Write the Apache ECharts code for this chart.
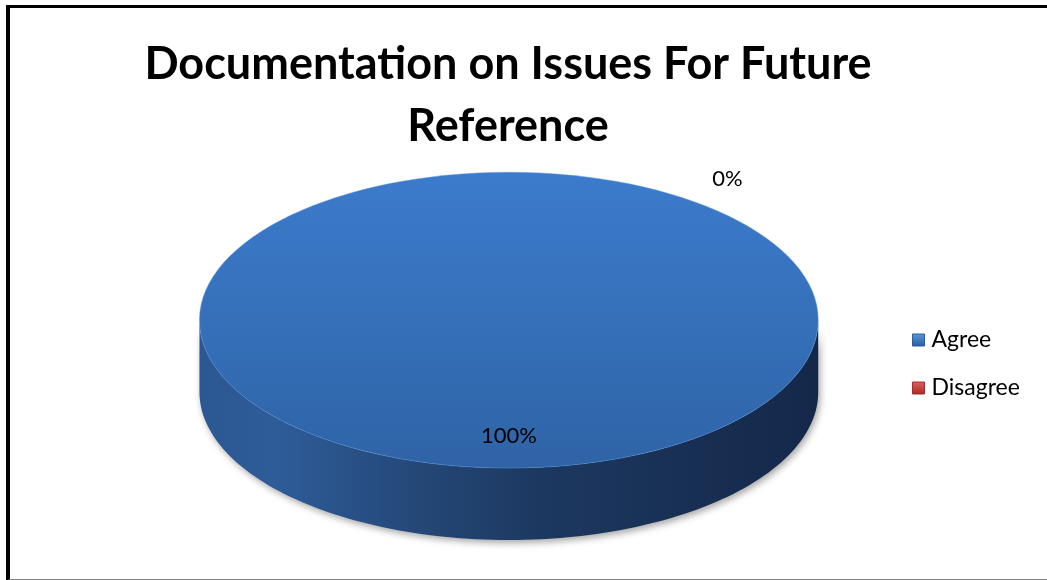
<!DOCTYPE html>
<html>
<head>
<meta charset="utf-8">
<title>Documentation on Issues For Future Reference</title>
<script src="https://cdn.jsdelivr.net/npm/echarts@6/dist/echarts.min.js"></script>
<style>
  html, body { margin: 0; padding: 0; background: #ffffff; }
  #chart { position: absolute; left: 0; top: 0; width: 1047px; height: 580px; }
  #frame {
    position: absolute; left: 6px; top: 5px; width: 1050px; height: 571px;
    border-left: 4px solid #000; border-top: 3px solid #000; border-bottom: 2px solid #7f7f7f;
    pointer-events: none;
  }
</style>
</head>
<body>
<div id="chart"></div>
<div id="frame"></div>
<script>
// Survey answers
const categories = ['Agree', 'Disagree'];
const values = [100, 0];
const titleText = 'Documentation on Issues For Future\nReference';

// Appearance of each answer: top face, side wall and legend swatch
const sliceStyles = [
  {
    top: ['#3c7bcc', '#3570b9', '#2f63a6'],
    side: ['#2b5892', '#2e5c99', '#244878', '#1d3860', '#182f53', '#14284a'],
    swatch: ['#5b98e0', '#2a5b9b']
  },
  {
    top: ['#d0504c', '#c0403c', '#a93431'],
    side: ['#9c2f2c', '#a83331', '#8a2826', '#6f201e', '#5e1a19', '#501514'],
    swatch: ['#e0615c', '#a42b27']
  }
];

// Ellipse layout of the tilted pie (fractions of the chart box)
const pieLayout = { cx: 0.486, cy: 0.552, rx: 0.2955, ry: 0.255, depth: 0.124, startDeg: 36.4 };
const FONT = 'Lato, "Open Sans", sans-serif';

const total = values.reduce((a, b) => a + b, 0);

function sliceAngles(i) {
  const before = values.slice(0, i).reduce((a, b) => a + b, 0);
  const off = pieLayout.startDeg * Math.PI / 180;
  const start = off + before / total * Math.PI * 2;
  const end = start + values[i] / total * Math.PI * 2;
  return [start, end];
}

function renderSlice(i) {
  return function (params, api) {
    const W = api.getWidth(), H = api.getHeight();
    const cx = W * pieLayout.cx, cy = H * pieLayout.cy;
    const rx = W * pieLayout.rx, ry = H * pieLayout.ry, depth = H * pieLayout.depth;
    const v = api.value(0);
    const [start, end] = sliceAngles(i);
    const style = sliceStyles[i];
    // angle measured clockwise from 12 o'clock
    const pt = (t, dy) => [cx + rx * Math.sin(t), cy - ry * Math.cos(t) + (dy || 0)];
    const children = [];

    if (v > 0) {
      // visible part of the side wall: front half of the ellipse
      for (let k = -1; k <= 1; k++) {
        const a = Math.max(start, Math.PI / 2 + 2 * Math.PI * k);
        const b = Math.min(end, 3 * Math.PI / 2 + 2 * Math.PI * k);
        if (b <= a) continue;
        const pts = [];
        const n = 120;
        for (let j = 0; j <= n; j++) pts.push(pt(a + (b - a) * j / n));
        for (let j = n; j >= 0; j--) pts.push(pt(a + (b - a) * j / n, depth));
        const sc = style.side;
        children.push({
          type: 'polygon',
          shape: { points: pts },
          style: {
            fill: new echarts.graphic.LinearGradient(0, 0, 1, 0, [
              { offset: 0, color: sc[0] }, { offset: 0.12, color: sc[1] },
              { offset: 0.35, color: sc[2] }, { offset: 0.55, color: sc[3] },
              { offset: 0.8, color: sc[4] }, { offset: 1, color: sc[5] }
            ]),
            shadowBlur: 7, shadowColor: 'rgba(0,0,0,0.35)', shadowOffsetX: 2, shadowOffsetY: 3
          }
        });
      }
      const topFill = new echarts.graphic.LinearGradient(0, 0, 0, 1, [
        { offset: 0, color: style.top[0] }, { offset: 0.5, color: style.top[1] }, { offset: 1, color: style.top[2] }
      ]);
      if (v >= total) {
        children.push({
          type: 'ellipse',
          shape: { cx: cx, cy: cy, rx: rx, ry: ry },
          style: { fill: topFill, stroke: 'rgba(90,150,225,0.45)', lineWidth: 1 }
        });
      } else {
        children.push({
          type: 'sector',
          shape: { cx: cx, cy: cy, r0: 0, r: rx, startAngle: start - Math.PI / 2, endAngle: end - Math.PI / 2, clockwise: true },
          originX: cx, originY: cy, scaleY: ry / rx,
          style: { fill: topFill }
        });
      }
    }

    // percentage label
    const pct = Math.round(v / total * 100) + '%';
    let lp;
    if (v >= total) {
      lp = [cx, cy + ry * 0.78];
    } else {
      const mid = (start + end) / 2;
      const k = v / total < 0.05 ? 1.19 : 0.65;
      lp = [cx + rx * k * Math.sin(mid), cy - ry * k * Math.cos(mid)];
    }
    children.push({
      type: 'text',
      x: lp[0], y: lp[1],
      style: {
        text: pct, fill: '#000', fontSize: 22, fontFamily: FONT,
        align: 'center', verticalAlign: 'middle'
      },
      z2: 10
    });
    return { type: 'group', children: children };
  };
}

const chart = echarts.init(document.getElementById('chart'), null, { renderer: 'canvas' });
chart.setOption({
  animation: false,
  backgroundColor: '#ffffff',
  title: {
    text: titleText,
    left: 503, top: 28, textAlign: 'center',
    textStyle: { fontSize: 45, fontWeight: 'bold', color: '#000', fontFamily: FONT, lineHeight: 62 }
  },
  legend: {
    orient: 'vertical',
    left: 912, top: 327, padding: 0,
    itemWidth: 12, itemHeight: 12, itemGap: 22,
    icon: 'rect',
    textStyle: { fontSize: 23, color: '#000', fontFamily: FONT, lineHeight: 26, padding: [0, 0, 0, 2] },
    data: categories.map((name, i) => ({
      name: name,
      itemStyle: {
        color: new echarts.graphic.LinearGradient(0, 0, 0, 1, [
          { offset: 0, color: sliceStyles[i].swatch[0] }, { offset: 1, color: sliceStyles[i].swatch[1] }
        ]),
        borderColor: sliceStyles[i].swatch[1], borderWidth: 1
      }
    }))
  },
  series: categories.map((name, i) => ({
    type: 'custom',
    name: name,
    coordinateSystem: 'none',
    itemStyle: { color: sliceStyles[i].swatch[1] },
    data: [[values[i]]],
    renderItem: renderSlice(i)
  }))
});
</script>
</body>
</html>
